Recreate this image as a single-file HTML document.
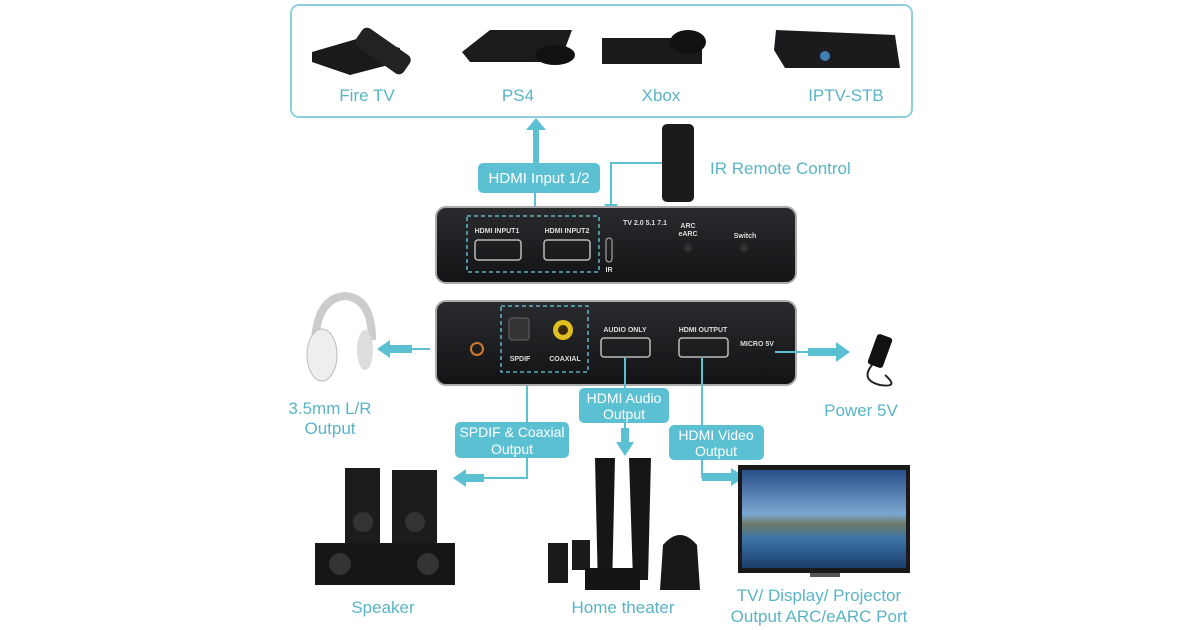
<!DOCTYPE html>
<html><head><meta charset="utf-8"><style>
html,body{margin:0;padding:0;background:#fff;}
svg{display:block;}
text{font-family:"Liberation Sans",sans-serif;}
.lbl{fill:#5ab4c6;font-size:17px;text-anchor:middle;}
.box{fill:#5cc0d3;}
.bt{fill:#fff;font-size:14px;text-anchor:middle;}
.ln{stroke:#5cc0d3;stroke-width:2;fill:none;}
.small{fill:#ddd;font-size:7px;font-weight:bold;text-anchor:middle;}
</style></head><body>
<svg width="1200" height="630" viewBox="0 0 1200 630" xmlns="http://www.w3.org/2000/svg">
<defs>
<linearGradient id="g1" x1="0" y1="0" x2="0" y2="1"><stop offset="0" stop-color="#2a2b2e"/><stop offset="1" stop-color="#121315"/></linearGradient>
<linearGradient id="sky" x1="0" y1="0" x2="0" y2="1"><stop offset="0" stop-color="#2a4f8a"/><stop offset="0.45" stop-color="#7aa7d0"/><stop offset="0.55" stop-color="#6d7a6a"/><stop offset="0.7" stop-color="#3c74a8"/><stop offset="1" stop-color="#1a3e6c"/></linearGradient>
</defs>
<rect x="291" y="5" width="621" height="112" rx="8" fill="none" stroke="#8fcfdb" stroke-width="2"/>
<polygon points="312,52 360,38 400,48 400,62 350,75 312,62" fill="#1a1a1a"/>
<rect x="372" y="22" width="22" height="58" rx="6" transform="rotate(-55 383 51)" fill="#222"/>
<polygon points="462,52 490,30 572,30 560,62 470,62" fill="#1c1c1e"/>
<ellipse cx="555" cy="55" rx="20" ry="10" fill="#111"/>
<rect x="602" y="38" width="100" height="26" fill="#1a1a1a"/>
<ellipse cx="688" cy="42" rx="18" ry="12" fill="#111"/>
<polygon points="776,30 895,35 900,68 785,68 774,50" fill="#1b1b1d"/>
<circle cx="825" cy="56" r="5" fill="#3f7fb0"/>
<text class="lbl" x="367" y="101">Fire TV</text>
<text class="lbl" x="518" y="101">PS4</text>
<text class="lbl" x="661" y="101">Xbox</text>
<text class="lbl" x="846" y="101">IPTV-STB</text>
<rect x="533" y="128" width="6" height="38" class="box"/>
<polygon points="526,130 536,118 546,130" class="box"/>
<line x1="535" y1="192" x2="535" y2="218" class="ln"/>
<rect x="478" y="163" width="122" height="30" rx="5" class="box"/>
<text class="bt" x="539" y="183" style="font-size:15px">HDMI Input 1/2</text>
<rect x="662" y="124" width="32" height="78" rx="5" fill="#1b1b1b"/>
<text x="710" y="174" class="lbl" style="text-anchor:start">IR Remote Control</text>
<polyline points="662,163 611,163 611,205" class="ln"/>
<polygon points="604,204 611,214 618,204" class="box"/>
<rect x="436" y="207" width="360" height="76" rx="10" fill="url(#g1)" stroke="#aaa" stroke-width="2"/>
<rect x="467" y="216" width="132" height="56" fill="none" stroke="#6ccde0" stroke-width="1.3" stroke-dasharray="4,3"/>
<text class="small" x="497" y="233">HDMI INPUT1</text>
<text class="small" x="567" y="233">HDMI INPUT2</text>
<rect x="475" y="240" width="46" height="20" rx="3" fill="none" stroke="#bbb" stroke-width="1.5"/>
<rect x="544" y="240" width="46" height="20" rx="3" fill="none" stroke="#bbb" stroke-width="1.5"/>
<rect x="606" y="238" width="6" height="24" rx="3" fill="none" stroke="#bbb"/>
<text class="small" x="609" y="272">IR</text>
<text class="small" x="645" y="225">TV 2.0 5.1 7.1</text>
<text class="small" x="688" y="228">ARC</text><text class="small" x="688" y="236">eARC</text>
<text class="small" x="745" y="238">Switch</text>
<circle cx="688" cy="248" r="4" fill="#333"/><circle cx="744" cy="248" r="4" fill="#333"/>
<rect x="436" y="301" width="360" height="84" rx="10" fill="url(#g1)" stroke="#aaa" stroke-width="2"/>
<rect x="501" y="306" width="87" height="66" fill="none" stroke="#6ccde0" stroke-width="1.3" stroke-dasharray="4,3"/>
<circle cx="477" cy="349" r="6" fill="none" stroke="#d07a30" stroke-width="2"/>
<rect x="509" y="318" width="20" height="22" rx="3" fill="#333" stroke="#666"/>
<circle cx="563" cy="330" r="10" fill="#e0c020"/><circle cx="563" cy="330" r="5" fill="#3a2a10"/>
<text class="small" x="520" y="361">SPDIF</text><text class="small" x="565" y="361">COAXIAL</text>
<text class="small" x="625" y="332">AUDIO ONLY</text><text class="small" x="703" y="332">HDMI OUTPUT</text>
<text class="small" x="757" y="346">MICRO 5V</text>
<rect x="601" y="338" width="49" height="19" rx="3" fill="none" stroke="#bbb" stroke-width="1.5"/>
<rect x="679" y="338" width="49" height="19" rx="3" fill="none" stroke="#bbb" stroke-width="1.5"/>
<path d="M315,340 Q318,298 345,296 Q372,298 372,340" fill="none" stroke="#ccc" stroke-width="8"/>
<ellipse cx="322" cy="355" rx="15" ry="26" fill="#eee" stroke="#bbb"/>
<ellipse cx="365" cy="350" rx="8" ry="20" fill="#ddd"/>
<polyline points="430,349 398,349" class="ln"/>
<rect x="390" y="345" width="22" height="8" class="box"/>
<polygon points="390,340 377,349 390,358" class="box"/>
<text class="lbl" x="330" y="414">3.5mm L/R</text>
<text class="lbl" x="330" y="434">Output</text>
<line x1="775" y1="352" x2="810" y2="352" class="ln"/>
<rect x="808" y="348" width="30" height="8" class="box"/>
<polygon points="836,342 850,352 836,362" class="box"/>
<rect x="872" y="335" width="16" height="32" rx="3" fill="#111" transform="rotate(20 880 351)"/>
<path d="M872,365 Q860,380 880,385 Q900,388 885,375" fill="none" stroke="#222" stroke-width="2"/>
<text class="lbl" x="861" y="416">Power 5V</text>
<polyline points="527,386 527,478 470,478" class="ln"/>
<rect x="464" y="474" width="20" height="8" class="box"/>
<polygon points="466,469 453,478 466,487" class="box"/>
<rect x="455" y="422" width="114" height="36" rx="5" class="box"/>
<text class="bt" x="512" y="437">SPDIF &amp; Coaxial</text>
<text class="bt" x="512" y="454">Output</text>
<line x1="625" y1="358" x2="625" y2="440" class="ln"/>
<rect x="621" y="428" width="8" height="16" class="box"/>
<polygon points="616,442 625,456 634,442" class="box"/>
<rect x="579" y="388" width="90" height="35" rx="5" class="box"/>
<text class="bt" x="624" y="403">HDMI Audio</text>
<text class="bt" x="624" y="419">Output</text>
<polyline points="702,358 702,477 735,477" class="ln"/>
<rect x="702" y="473" width="30" height="8" class="box"/>
<polygon points="731,468 745,477 731,486" class="box"/>
<rect x="669" y="425" width="95" height="35" rx="5" class="box"/>
<text class="bt" x="716" y="440">HDMI Video</text>
<text class="bt" x="716" y="456">Output</text>
<rect x="345" y="468" width="35" height="80" fill="#1c1c1c"/>
<rect x="392" y="470" width="45" height="80" fill="#1c1c1c"/>
<rect x="315" y="543" width="140" height="42" fill="#161616"/>
<circle cx="363" cy="522" r="10" fill="#333"/><circle cx="415" cy="522" r="10" fill="#333"/>
<circle cx="340" cy="564" r="11" fill="#333"/><circle cx="428" cy="564" r="11" fill="#333"/>
<text class="lbl" x="383" y="613">Speaker</text>
<polygon points="595,458 615,458 612,590 598,590" fill="#161616"/>
<polygon points="629,458 651,458 648,580 633,580" fill="#161616"/>
<rect x="548" y="543" width="20" height="40" fill="#1a1a1a"/>
<rect x="572" y="540" width="18" height="30" fill="#1a1a1a"/>
<rect x="585" y="568" width="55" height="22" fill="#141414"/>
<path d="M660,590 L663,545 Q680,525 697,545 L700,590 Z" fill="#181818"/>
<text class="lbl" x="623" y="613">Home theater</text>
<rect x="738" y="465" width="172" height="108" fill="#1a1a1a"/>
<rect x="742" y="470" width="164" height="98" fill="url(#sky)"/>
<rect x="810" y="573" width="30" height="4" fill="#555"/>
<text class="lbl" x="819" y="601">TV/ Display/ Projector</text>
<text class="lbl" x="819" y="622">Output ARC/eARC Port</text>
</svg>
</body></html>
